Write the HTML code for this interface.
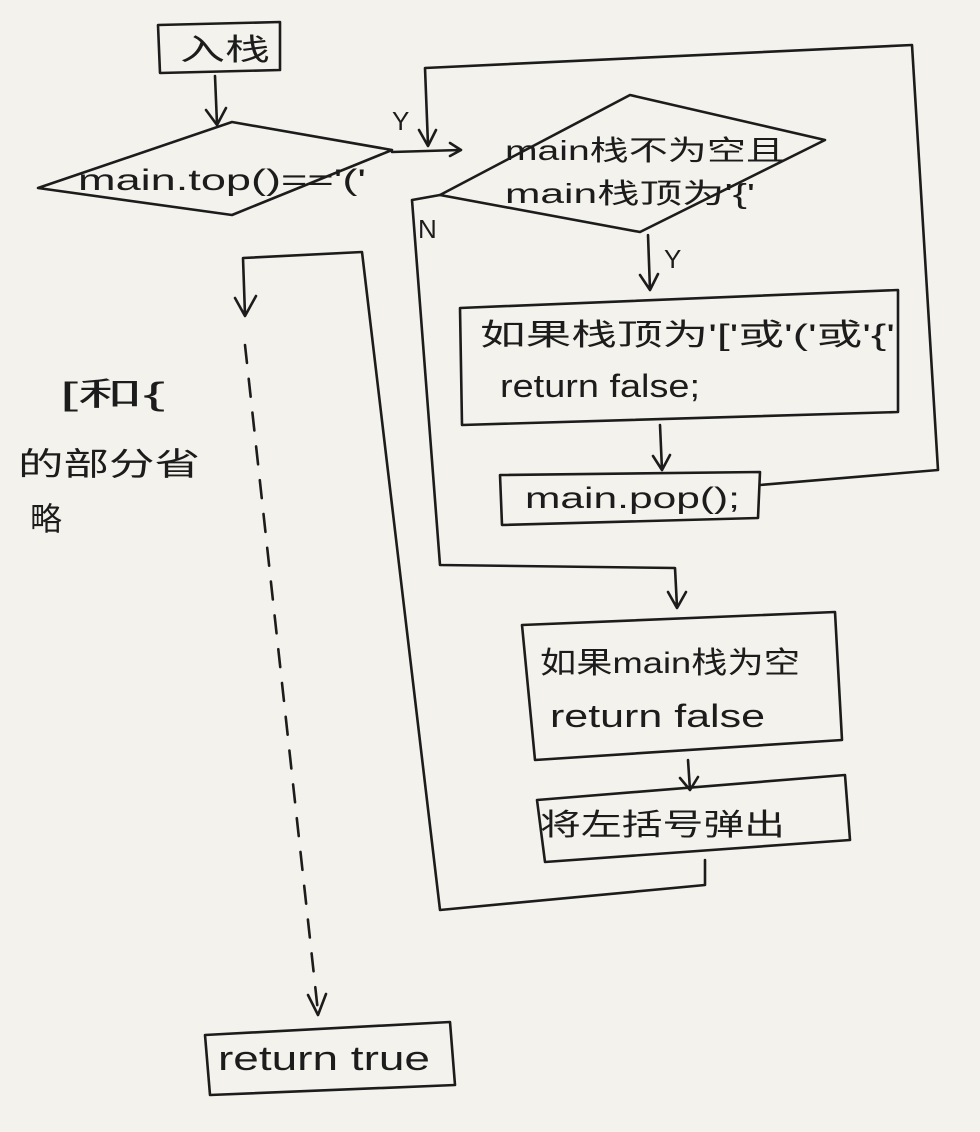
<!DOCTYPE html>
<html><head><meta charset="utf-8"><style>
html,body{margin:0;padding:0;background:#f4f2ec;}
svg{display:block}
text{font-family:"Liberation Sans","Noto Sans CJK SC",sans-serif;fill:#1c1c1c;}
</style></head><body>
<svg width="980" height="1132" viewBox="0 0 980 1132" xmlns="http://www.w3.org/2000/svg">
<rect width="980" height="1132" fill="#f4f2ec"/>
<g fill="none" stroke="#1c1c1c" stroke-width="2.6" stroke-linecap="round" stroke-linejoin="round">
<path d="M158,25 L280,22 L280,70 L160,73 Z"/>
<path d="M215,76 L217,124 M206,110 L217,125 L226,108"/>
<path d="M38,188 L232,122 L392,150 L232,215 Z"/>
<path d="M392,152 L460,150 M450,143 L461,150 L450,156"/>
<path d="M428,145 L425,68 L912,45 L938,470 L760,485"/>
<path d="M419,130 L428,146 L436,130"/>
<path d="M440,195 L630,95 L825,140 L640,232 Z"/>
<path d="M440,195 L412,200 L440,565 L675,568 L677,607 M668,592 L677,608 L686,592"/>
<path d="M648,235 L650,290 M640,275 L650,290 L658,274"/>
<path d="M460,308 L898,290 L898,412 L462,425 Z"/>
<path d="M660,425 L662,470 M653,456 L662,470 L670,455"/>
<path d="M500,475 L760,472 L758,518 L502,525 Z"/>
<path d="M522,625 L835,612 L842,740 L535,760 Z"/>
<path d="M688,760 L690,790 M680,778 L690,790 L698,777"/>
<path d="M537,800 L845,775 L850,840 L545,862 Z"/>
<path d="M705,860 L705,885 L440,910 L362,252 L243,258 L245,315 M235,298 L245,316 L256,296"/>
<path d="M245,345 L318,1012" stroke-dasharray="18,16"/>
<path d="M308,995 L318,1015 L326,994"/>
<path d="M205,1035 L450,1022 L455,1085 L210,1095 Z"/>
</g>
<g font-size="30">
<text x="180" y="60" textLength="90" lengthAdjust="spacingAndGlyphs">入栈</text>
<text x="78" y="190" textLength="288" lengthAdjust="spacingAndGlyphs">main.top()=='('</text>
<text x="392" y="130" font-size="26">Y</text>
<text x="505" y="160" font-size="28" textLength="280" lengthAdjust="spacingAndGlyphs">main栈不为空且</text>
<text x="505" y="203" font-size="28" textLength="250" lengthAdjust="spacingAndGlyphs">main栈顶为'{'</text>
<text x="418" y="238" font-size="26">N</text>
<text x="664" y="268" font-size="26">Y</text>
<text x="480" y="345" font-size="30" textLength="415" lengthAdjust="spacingAndGlyphs">如果栈顶为'['或'('或'{'</text>
<text x="500" y="397" font-size="32" textLength="200" lengthAdjust="spacingAndGlyphs">return false;</text>
<text x="525" y="508" font-size="30" textLength="215" lengthAdjust="spacingAndGlyphs">main.pop();</text>
<text x="540" y="673" font-size="30" textLength="260" lengthAdjust="spacingAndGlyphs">如果main栈为空</text>
<text x="550" y="727" font-size="32" textLength="215" lengthAdjust="spacingAndGlyphs">return false</text>
<text x="540" y="835" font-size="30" textLength="245" lengthAdjust="spacingAndGlyphs">将左括号弹出</text>
<text x="218" y="1070" font-size="34" textLength="212" lengthAdjust="spacingAndGlyphs">return true</text>
<text x="60" y="405" font-size="32" textLength="105" lengthAdjust="spacingAndGlyphs">[和{</text>
<text x="18" y="475" font-size="32" textLength="182" lengthAdjust="spacingAndGlyphs">的部分省</text>
<text x="30" y="530" font-size="32">略</text>
</g>
</svg>
</body></html>
